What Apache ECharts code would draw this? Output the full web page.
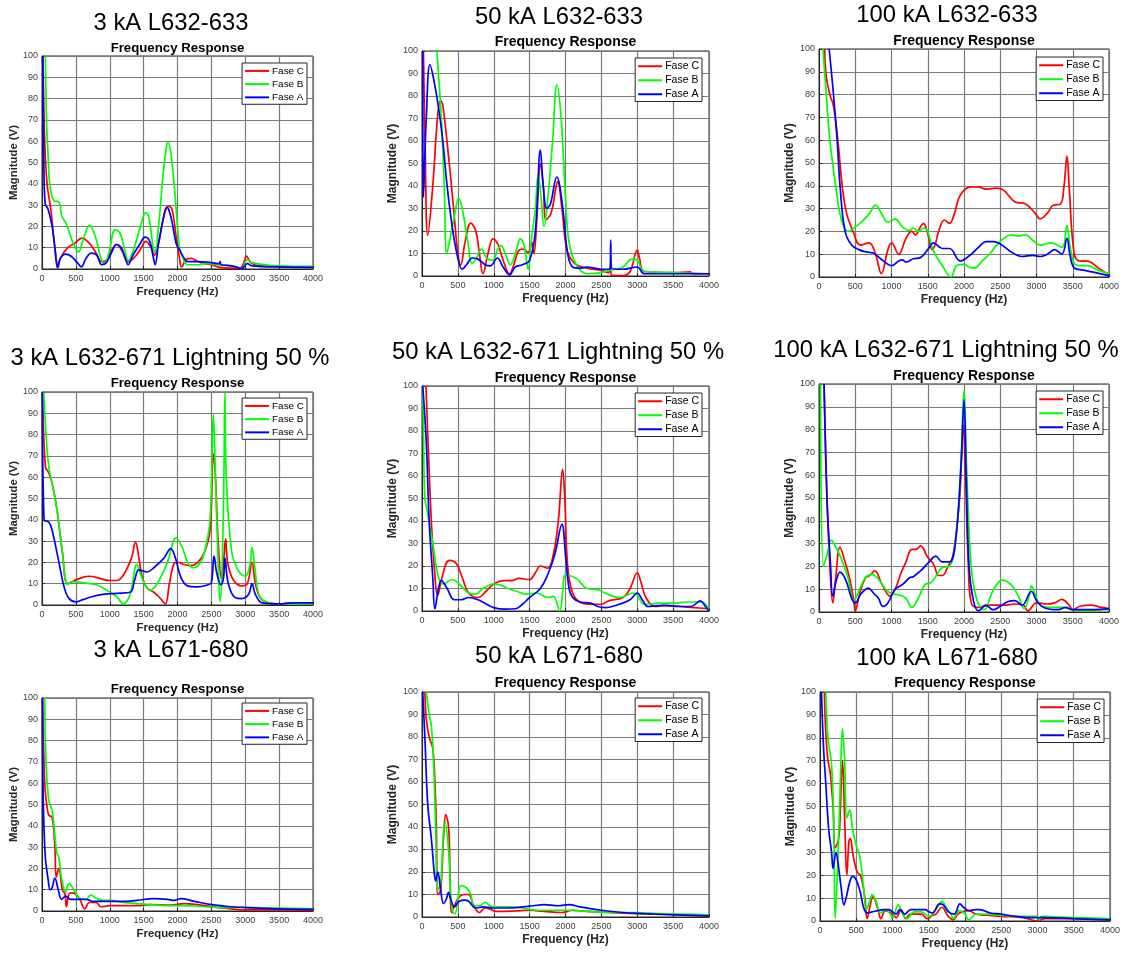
<!DOCTYPE html>
<html>
<head>
<meta charset="utf-8">
<script src="https://cdn.jsdelivr.net/npm/echarts@6/dist/echarts.min.js"></script>
<style>
  html, body { margin: 0; background: #fff; }
  #chart { width: 1123px; height: 953px; }
</style>
</head>
<body>
<div id="chart"></div>
<script>
// ---- data: [frequency (Hz), magnitude (V)] ----
const phaseNames = ['Fase C', 'Fase B', 'Fase A']
const phaseColors = ['#ff0000', '#00ff00', '#0000ff']
const panelTitles = [
  '3 kA L632-633', '50 kA L632-633', '100 kA L632-633',
  '3 kA L632-671 Lightning 50 %', '50 kA L632-671 Lightning 50 %', '100 kA L632-671 Lightning 50 %',
  '3 kA L671-680', '50 kA L671-680', '100 kA L671-680'
]

// 3 kA L632-633
const p1FaseC = [[15,100],[40,60],[75,40],[130,28],[190,10],[240,1],[270,5],[380,10],[480,12],[590,14.5],[700,12],[790,8],[880,3.5],[950,4],[1030,9],[1100,11.5],[1180,8.5],[1270,3.5],[1350,5],[1450,9],[1530,13],[1610,10],[1660,6.5],[1720,12],[1800,25],[1870,29.5],[1920,28],[1980,15],[2030,5],[2060,1],[2130,4.5],[2200,5],[2300,3.5],[2400,2.5],[2500,2],[2600,1],[2700,0.5],[2900,0.3],[2960,1.5],[3020,6],[3080,3],[3200,1.5],[3500,1],[4000,0.8]]
const p1FaseB = [[50,100],[65,72],[95,50],[115,40],[175,32],[250,31.5],[290,25],[360,21],[450,13],[540,8],[600,13],[700,20.5],[790,15],[870,5],[920,2.5],[990,8],[1080,18.5],[1150,17],[1230,8],[1270,4],[1380,12],[1470,22],[1530,26.5],[1580,24],[1640,10],[1665,8],[1720,20],[1790,45],[1840,58],[1860,59.5],[1900,55],[1950,40],[2000,20],[2030,10],[2080,5],[2150,2],[2300,2],[2400,2.5],[2500,2.5],[2600,2],[2800,1.5],[2950,0.5],[3030,4.5],[3100,3],[3300,2],[3500,1.5],[4000,1.2]]
const p1FaseA = [[10,100],[25,55],[45,31],[90,28],[150,20],[190,10],[230,0.5],[270,5],[350,7],[430,6],[520,3],[580,1],[650,5],[730,7.5],[810,6.5],[880,2],[950,3],[1030,8],[1100,11.5],[1170,10],[1230,5],[1270,2],[1350,7],[1450,12],[1520,15],[1590,13],[1640,6],[1670,2],[1720,12],[1780,22],[1840,29],[1870,28],[1920,22],[1980,12],[2030,9],[2100,5],[2150,3.5],[2300,3.5],[2500,3],[2615,2.5],[2630,3.5],[2645,2],[2800,1.5],[2950,0.3],[3030,2.5],[3100,1.5],[3500,1],[4000,0.8]]

// 50 kA L632-633
const p2FaseC = [[20,100],[45,55],[80,18],[150,40],[220,72],[260,78],[290,76],[380,50],[440,30],[500,10],[540,5],[600,15],[680,23.5],[750,20],[800,10],[850,1],[920,10],[990,16.5],[1060,14],[1120,8],[1220,1],[1280,5],[1340,11],[1400,12],[1480,10.5],[1530,15],[1560,10],[1600,25],[1650,50],[1690,40],[1730,25],[1800,28],[1870,40],[1890,42],[1950,30],[2000,15],[2050,9],[2150,5],[2300,3.5],[2500,2.5],[2600,1.5],[2625,4],[2645,0.3],[2800,0.2],[2900,2],[3000,11.5],[3030,8],[3100,2],[3500,1.5],[3740,1.8],[3760,1.2],[4000,1]]
const p2FaseB = [[150,130],[208,100],[270,70],[310,40],[345,10],[400,18],[460,28],[510,34.5],[560,30],[640,15],[700,5.5],[760,8],[830,12],[900,8],[980,7],[1060,12],[1100,13.5],[1160,10],[1230,5],[1320,12],[1370,16.5],[1420,14],[1460,6],[1480,3],[1520,15],[1580,30],[1620,45],[1660,35],[1700,22],[1740,30],[1820,60],[1880,85],[1940,70],[2000,35],[2050,15],[2150,5],[2300,1],[2500,1.5],[2600,2.5],[2700,3],[2800,4],[2930,7.5],[3000,7],[3100,2],[3500,1.5],[4000,1]]
const p2FaseA = [[10,100],[20,35],[60,70],[110,94],[160,88],[230,75],[290,60],[350,40],[430,20],[500,8],[560,3],[620,5],[700,8],[780,7.5],[880,5],[950,4.5],[1050,8],[1130,4],[1220,0.5],[1300,4],[1400,5],[1500,7],[1580,20],[1650,56],[1690,40],[1740,30],[1790,32],[1880,44],[1920,40],[1980,25],[2030,10],[2100,4],[2200,3.5],[2300,4],[2500,3],[2620,3],[2630,16],[2640,3.5],[2800,3],[3000,4],[3100,1],[4000,1]]

// 100 kA L632-633
const p3FaseC = [[78,100],[100,88],[150,80],[200,75],[260,60],[320,40],[380,28],[470,20],[570,14],[690,15],[780,10],[860,1.5],[950,12],[1000,15],[1100,10],[1200,17],[1280,20],[1330,18.5],[1400,22],[1440,23.5],[1500,19],[1560,12],[1600,14],[1650,20],[1730,25],[1800,23.5],[1870,28],[1950,36],[2100,39.5],[2200,39.5],[2300,38.5],[2450,39],[2550,38],[2700,33],[2850,32],[2980,28],[3050,25.5],[3150,28],[3230,31.5],[3330,32],[3380,40],[3420,53],[3450,40],[3520,10],[3600,7],[3700,7],[3850,4],[4000,1]]
const p3FaseB = [[55,100],[100,80],[150,60],[230,40],[310,25],[400,20],[500,22],[600,24.5],[700,28],[780,31.5],[860,28],[950,24],[1050,25.5],[1150,22],[1250,20.5],[1300,21.5],[1370,20],[1450,21.5],[1500,20],[1550,14],[1600,10],[1700,5],[1820,0],[1900,5],[2000,5.5],[2100,4],[2150,4],[2250,7],[2350,10],[2450,14],[2550,17],[2650,18.5],[2750,18],[2850,18.5],[2950,16],[3050,14],[3200,15],[3350,13],[3420,22.5],[3460,14],[3520,6],[3600,5],[3700,5],[3850,3],[4000,1.5]]
const p3FaseA = [[140,100],[200,80],[250,60],[290,40],[360,20],[450,14],[550,12],[650,11],[750,10.5],[850,8],[1000,5],[1100,7],[1150,7.5],[1200,6.5],[1300,8],[1400,8.5],[1500,12],[1580,15],[1700,12.5],[1800,12.5],[1950,7],[2100,10],[2200,13],[2300,15.5],[2400,15.5],[2500,14.5],[2650,11],[2800,9],[2950,9.5],[3050,9],[3150,10],[3250,12],[3350,10],[3420,17],[3460,10],[3520,4],[3650,3],[3800,2],[4000,0.5]]

// 3 kA L632-671 Lightning 50 %
const p4FaseC = [[10,100],[50,65],[100,62],[150,57],[220,45],[300,25],[380,10],[480,11.5],[600,13],[700,13.5],[850,12.5],[1000,11.5],[1100,11.5],[1200,14],[1320,22],[1380,29.5],[1430,22],[1480,13],[1550,8],[1650,6],[1750,3],[1820,0.5],[1880,10],[1950,19.5],[2000,20],[2100,19],[2200,18.5],[2300,20],[2400,25],[2480,35],[2530,71],[2560,60],[2600,30],[2650,12],[2680,20],[2710,31],[2740,20],[2820,12],[2950,9],[3030,10],[3100,20],[3150,10],[3230,3],[3350,1],[3500,0.5],[3700,1],[4000,0.5]]
const p4FaseB = [[25,100],[60,80],[100,65],[150,57],[220,45],[300,25],[380,9.5],[450,11],[600,10.5],[800,9.5],[950,7],[1100,4],[1200,0.5],[1300,5],[1400,19],[1460,14],[1530,9],[1600,7],[1700,10],[1850,20],[1980,31.5],[2070,27],[2150,20],[2230,17.5],[2320,19],[2400,25],[2480,40],[2530,89.5],[2560,60],[2600,20],[2630,1.5],[2660,20],[2685,60],[2700,100],[2720,60],[2800,25],[2900,16],[3000,13.5],[3070,19],[3100,27],[3140,18],[3200,5],[3300,1.5],[3500,0.5],[4000,0.5]]
const p4FaseA = [[5,100],[30,40],[100,39],[150,35],[250,20],[330,8],[400,3],[500,1.5],[600,2.5],[750,4],[900,5],[1100,5.5],[1300,6],[1370,12],[1430,16.5],[1550,15.5],[1650,17.5],[1800,22],[1900,26.5],[1970,22],[2050,13],[2150,9],[2300,8.5],[2450,9.5],[2500,10.5],[2540,23],[2580,15],[2640,9.5],[2680,13],[2700,22],[2750,10],[2850,3.5],[2950,3],[3050,5],[3100,10],[3150,5],[3250,1],[3500,0.5],[3700,1],[4000,1]]

// 50 kA L632-671 Lightning 50 %
const p5FaseC = [[55,100],[90,70],[130,40],[170,20],[220,7],[280,15],[380,22.5],[480,21],[560,15],[650,8],[780,6],[900,9],[1000,12],[1150,13.5],[1250,13.5],[1350,14.5],[1500,14],[1580,17],[1650,20],[1750,19],[1830,25],[1900,40],[1960,63],[1990,50],[2030,20],[2100,8],[2200,4],[2350,3],[2500,3],[2600,4.5],[2800,6],[2900,10],[3000,17],[3050,13],[3120,6],[3250,2],[3400,2.5],[3600,2],[3800,1.5],[4000,1]]
const p5FaseB = [[10,100],[20,80],[40,50],[70,45],[150,30],[230,15],[300,12],[420,14],[520,12],[650,8],[750,7.5],[850,10],[1000,12],[1100,11.5],[1200,10],[1300,9],[1450,7.5],[1600,8],[1750,6],[1830,6.5],[1920,0],[1960,8],[2000,16],[2150,14.5],[2300,10],[2450,9.5],[2550,8],[2750,6],[2950,8],[3000,7],[3100,3],[3300,3.5],[3500,3.5],[3700,4],[3900,4],[4000,0.5]]
const p5FaseA = [[10,100],[60,75],[100,40],[150,15],[180,1],[230,10],[270,13.5],[350,10],[450,5],[550,5],[650,6],[780,5],[900,3],[1000,1.5],[1150,0.8],[1300,1],[1400,3],[1500,6],[1650,10],[1750,16],[1850,25],[1950,38.5],[2000,25],[2050,10],[2100,6],[2200,4],[2350,3.5],[2450,2],[2550,1.5],[2650,2],[2750,3],[2900,5],[3000,8],[3070,5],[3150,2],[3350,2.5],[3600,2],[3750,2],[3880,4.5],[3950,2],[4000,0]]

// 100 kA L632-671 Lightning 50 %
const p6FaseC = [[70,100],[110,50],[150,20],[190,4],[230,15],[290,28.5],[350,23],[420,15],[480,5],[500,0.5],[560,8],[640,15],[700,16],[770,18],[870,12],[980,7],[1050,10],[1130,17],[1200,22],[1280,27.5],[1340,27.5],[1400,29],[1500,24],[1580,21],[1650,16],[1700,16],[1780,20],[1850,25],[1940,50],[1990,82],[2020,60],[2060,20],[2100,4],[2200,2],[2350,3],[2550,3],[2700,3.5],[2820,3],[2880,0.5],[3000,4],[3150,3.5],[3250,4],[3350,5.5],[3450,3],[3500,1],[3600,2.5],[3750,3],[3900,2],[4000,1.5]]
const p6FaseB = [[20,100],[60,20],[110,25],[170,31.5],[240,28],[300,24],[400,15],[480,5],[560,10],[640,15],[730,16.5],[830,14],[920,10],[1000,8],[1100,7.5],[1200,6],[1280,2],[1370,6],[1460,12],[1550,13],[1620,16],[1700,19.5],[1800,20],[1880,30],[1950,60],[2000,97],[2040,60],[2100,20],[2180,5],[2280,1],[2380,8],[2450,12],[2530,14],[2650,12],[2750,7],[2830,1.5],[2900,7],[2930,11.5],[2980,8],[3050,3],[3200,2],[3350,2],[3500,1],[3700,0.5],[3900,1],[4000,1]]
const p6FaseA = [[70,100],[110,50],[160,20],[190,7],[240,14],[290,17.5],[370,14],[450,6],[500,4],[580,8],[680,10.5],[760,8],[820,6],[880,2.5],[950,4],[1050,10],[1150,12],[1250,15],[1300,15.5],[1400,18],[1520,22],[1610,24.5],[1700,22],[1800,22],[1880,30],[1960,65],[2000,93],[2030,60],[2070,20],[2130,5],[2200,0.5],[2300,3],[2400,1],[2500,2.5],[2600,4.5],[2700,5],[2800,3],[2930,9],[3000,5],[3100,2],[3300,1],[3400,2],[3500,1],[3800,1],[4000,1.5]]

// 3 kA L671-680
const p7FaseC = [[10,100],[40,60],[70,50],[100,45],[150,44],[190,30],[210,16],[250,20],[300,10],[340,8],[360,2],[400,8],[450,8.5],[550,6],[630,1],[700,4],[800,4],[870,2],[1000,2.5],[1200,2.5],[1400,2.5],[1600,3],[1900,2.8],[2100,3.5],[2300,3],[2500,2],[2800,1],[3000,0.5],[3500,0.5],[4000,0.3]]
const p7FaseB = [[40,100],[60,70],[100,52],[150,47],[220,27],[250,25],[290,15],[350,9],[400,13],[470,10],[550,6],[650,5.5],[720,7.5],[800,6],[900,5],[1000,5],[1200,4],[1400,3.5],[1600,3],[1900,2.5],[2100,2.5],[2400,2],[2700,1.5],[3000,1.8],[3300,1.5],[4000,1]]
const p7FaseA = [[5,100],[20,50],[50,25],[90,15],[120,10],[150,11],[190,15.5],[240,10],[290,5.5],[350,7],[420,5.5],[550,5.5],[650,5.5],[750,4.5],[900,4.5],[1200,4.5],[1400,5],[1650,5.8],[1850,5.5],[1950,5],[2050,5.8],[2250,4.5],[2500,3],[2800,2],[3100,1.5],[3500,1],[4000,0.8]]

// 50 kA L671-680
const p8FaseC = [[40,100],[60,88],[100,80],[150,75],[180,60],[200,40],[220,10],[260,12],[300,35],[330,45.5],[370,40],[390,20],[410,2],[450,5],[520,9],[600,10],[650,10],[720,5],[800,2],[880,4],[950,3.5],[1030,2.5],[1300,2.7],[1500,3],[1700,2.5],[1950,2],[2100,3],[2300,2.5],[2600,2],[3000,1.5],[3500,1],[4000,0.5]]
const p8FaseB = [[60,100],[100,90],[130,85],[160,70],[190,40],[220,12],[260,15],[300,38],[320,42],[370,30],[400,10],[430,2],[460,1.5],[500,8],[540,14],[620,13],[680,10],[720,5],[800,5],[880,6.5],[950,5],[1000,4.5],[1200,4.5],[1400,4],[1600,3],[1800,3],[2000,3],[2300,2.5],[2600,2],[3000,2],[3300,1.5],[4000,1]]
const p8FaseA = [[10,100],[40,80],[80,50],[130,35],[170,20],[190,16],[220,20],[260,12],[300,6],[340,8],[370,11],[400,8],[450,4.5],[520,7],[600,7.5],[650,7],[750,4],[850,4.5],[1000,4],[1200,4],[1400,4.5],[1550,5],[1700,5.5],[1900,5],[2050,5.5],[2200,4.5],[2500,3],[2800,2],[3100,1.5],[3500,1],[4000,0.5]]

// 100 kA L671-680
const p9FaseC = [[60,100],[80,82],[110,70],[140,65],[180,50],[210,32],[250,35],[270,40],[310,70],[340,45],[370,20],[400,35],[420,36],[450,30],[480,25],[520,21],[560,20],[620,10],[650,1],[700,8],[730,10.5],[800,5],[840,1],[900,4.5],[1000,3],[1050,1.5],[1120,5],[1180,1],[1250,3],[1400,3],[1480,1],[1550,2.5],[1600,3],[1680,6],[1770,2],[1840,0.5],[1900,3],[1960,4],[2050,4.5],[2150,3],[2300,2.5],[2500,2],[2800,1.5],[3000,0],[3100,1],[3500,1],[4000,0.5]]
const p9FaseB = [[80,100],[110,80],[160,68],[190,40],[210,1],[250,30],[280,60],[310,84],[340,70],[370,45],[410,48.5],[450,40],[500,33],[550,28],[600,15],[640,5],[680,8],[720,11.5],[780,8],[830,3.5],[900,5],[950,4],[1000,1.5],[1080,7],[1140,3],[1200,1],[1300,4],[1400,4],[1500,2],[1600,5],[1680,8.5],[1760,5],[1800,3.5],[1840,1],[1920,4.5],[2000,3],[2050,0.5],[2150,3],[2300,3],[2500,2.5],[2800,2],[2980,2],[3020,0.5],[3050,2],[3500,1.5],[4000,1]]
const p9FaseA = [[20,100],[50,75],[80,60],[120,40],[160,30],[180,23],[220,30],[250,25],[290,15],[330,7],[360,10],[410,17],[450,19.5],[500,18],[560,12],[600,6],[650,3.5],[720,4],[800,4.5],[870,5],[950,5],[1000,4],[1050,3],[1100,5],[1170,3],[1250,5],[1350,5],[1450,5],[1500,4],[1550,3.5],[1650,7.5],[1700,7],[1770,4],[1850,3],[1930,7.5],[1980,6],[2050,4.5],[2150,5],[2200,5],[2350,3.5],[2500,3],[2700,2],[2900,1.5],[3100,1.5],[3500,1],[4000,0.5]]

const panelSeries = [
  [p1FaseC, p1FaseB, p1FaseA], [p2FaseC, p2FaseB, p2FaseA], [p3FaseC, p3FaseB, p3FaseA],
  [p4FaseC, p4FaseB, p4FaseA], [p5FaseC, p5FaseB, p5FaseA], [p6FaseC, p6FaseB, p6FaseA],
  [p7FaseC, p7FaseB, p7FaseA], [p8FaseC, p8FaseB, p8FaseA], [p9FaseC, p9FaseB, p9FaseA]
]

// ---- layout (pixels) ----
const gridBoxes = [
  [42, 56, 271, 213], [422, 51, 287, 225], [819, 49, 290, 228],
  [42, 392, 271, 213], [422, 386, 287, 225], [819, 384, 290, 228],
  [42, 698, 271, 213], [422, 692, 287, 225], [820, 692, 290, 229]
]
const titleCenters = [
  [171, 23], [559, 17], [947, 15],
  [170, 358], [558, 352], [946, 350],
  [171, 650], [559, 656], [947, 658]
]
const subtitleY = [48, 42.5, 40.7, 383.3, 377.7, 375.7, 689.3, 683.3, 683.3]
const legendCorners = [
  [307, 63], [702, 58], [1103, 57],
  [307, 398], [702, 393], [1103, 391],
  [307, 703], [702, 698], [1104, 699]
]
const frameColor = '#262626'
const gridLineColor = '#7a7a7a'

const chart = echarts.init(document.getElementById('chart'))

const title = []
const grid = []
const xAxis = []
const yAxis = []
const legend = []
const series = []

panelTitles.forEach((text, i) => {
  const [gl, gt, gw, gh] = gridBoxes[i]
  const s = i % 3 === 0 ? 0.945 : 1 // first column is drawn a little smaller
  title.push({
    text,
    left: titleCenters[i][0],
    top: titleCenters[i][1],
    textAlign: 'center',
    textVerticalAlign: 'middle',
    padding: 0,
    textStyle: { fontSize: 23.8, fontWeight: 'normal', color: '#000' }
  })
  title.push({
    text: 'Frequency Response',
    left: gl + gw / 2,
    top: subtitleY[i],
    textAlign: 'center',
    textVerticalAlign: 'middle',
    padding: 0,
    textStyle: { fontSize: 14 * s, fontWeight: 'bold', color: '#000' }
  })
  grid.push({
    left: gl, top: gt, width: gw, height: gh,
    show: true, backgroundColor: '#fff', borderColor: frameColor, borderWidth: 1
  })
  xAxis.push({
    gridIndex: i,
    type: 'value',
    min: 0, max: 4000, interval: 500,
    name: 'Frequency (Hz)',
    nameLocation: 'middle',
    nameGap: 17,
    nameTextStyle: { fontSize: 12 * s, fontWeight: 'bold', color: frameColor },
    axisLine: { show: true, lineStyle: { color: frameColor } },
    axisTick: { show: true, inside: true, length: 3, lineStyle: { color: frameColor } },
    axisLabel: { fontSize: 9, color: '#404040', margin: 5, formatter: v => String(v) },
    splitLine: { show: true, lineStyle: { color: gridLineColor, width: 1.2 } }
  })
  yAxis.push({
    gridIndex: i,
    type: 'value',
    min: 0, max: 100, interval: 10,
    name: 'Magnitude (V)',
    nameLocation: 'middle',
    nameGap: 20,
    nameRotate: 90,
    nameTextStyle: { fontSize: 12 * s, fontWeight: 'bold', color: frameColor },
    axisLine: { show: true, lineStyle: { color: frameColor } },
    axisTick: { show: true, inside: true, length: 3, lineStyle: { color: frameColor } },
    axisLabel: { fontSize: 9, color: '#404040', margin: 4, formatter: v => String(v) },
    splitLine: { show: true, lineStyle: { color: gridLineColor, width: 1.2 } }
  })
  legend.push({
    data: phaseNames,
    orient: 'vertical',
    right: 1123 - legendCorners[i][0],
    top: legendCorners[i][1],
    padding: [2, 3, 1, 3],
    itemGap: 1.5 * s,
    itemWidth: 24,
    itemHeight: 2,
    icon: 'rect',
    backgroundColor: '#fff',
    borderColor: frameColor,
    borderWidth: 1,
    borderRadius: 0,
    selectedMode: false,
    textStyle: { fontSize: 10.5 * s, color: '#000', lineHeight: 12.5 * s, padding: [0, 0, 0, -2] }
  })
  panelSeries[i].forEach((data, j) => {
    series.push({
      name: phaseNames[j],
      type: 'line',
      xAxisIndex: i,
      yAxisIndex: i,
      data,
      symbol: 'none',
      smooth: 0.4,
      clip: true,
      lineStyle: { width: 1.7, color: phaseColors[j] },
      itemStyle: { color: phaseColors[j] }
    })
  })
})

chart.setOption({
  backgroundColor: '#fff',
  animation: false,
  textStyle: { fontFamily: 'Liberation Sans, Arial, sans-serif' },
  title,
  grid,
  xAxis,
  yAxis,
  legend,
  series
})
</script>
</body>
</html>
